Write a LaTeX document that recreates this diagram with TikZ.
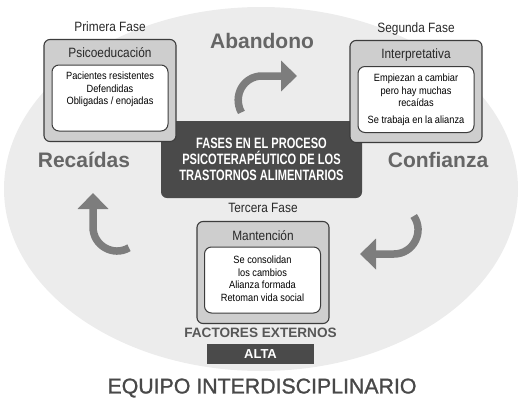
\documentclass[tikz,border=0pt]{standalone}
\usepackage{fontspec}
\usepackage{xcolor}
\setmainfont{Liberation Sans}
\newfontfamily\narrowfont[FakeStretch=0.88]{Liberation Sans}
\newfontfamily\condfont[FakeStretch=0.74]{Liberation Sans}
\newfontfamily\mediumfont[FakeBold=1.2]{Liberation Sans}
\usetikzlibrary{arrows.meta, positioning, backgrounds}
\definecolor{ovalgray}{RGB}{236, 236, 236}
\definecolor{boxgray}{RGB}{206, 206, 206}
\definecolor{edgegray}{RGB}{60, 60, 60}
\definecolor{darkbox}{RGB}{74, 74, 74}
\definecolor{arrowgray}{RGB}{125, 125, 125}
\definecolor{labelgray}{RGB}{102, 102, 102}
\definecolor{textdark}{RGB}{40, 40, 40}

\begin{document}
\begin{tikzpicture}[
	x=1pt, y=-1pt,
	% Phase boxes
	phaseouter/.style={
			rectangle,
			rounded corners=6pt,
			minimum width=132pt,
			minimum height=102pt,
			fill=boxgray,
			draw=edgegray,
			line width=1.1pt
		},
	phaseinner/.style={
			rectangle,
			rounded corners=7pt,
			minimum width=116pt,
			minimum height=66pt,
			fill=white,
			draw=edgegray,
			line width=1pt
		},
	phasetitle/.style={
			font=\narrowfont\fontsize{13.5}{16}\selectfont,
			text=textdark,
			inner sep=0pt
		},
	phaselabel/.style={
			font=\narrowfont\fontsize{13.5}{16}\selectfont,
			text=textdark,
			text depth=0pt,
			inner sep=0pt
		},
	phasetext/.style={
			font=\narrowfont\fontsize{10.5}{12.5}\selectfont,
			text=black,
			align=center,
			inner sep=0pt
		},
	% Center title
	centerbox/.style={
			rectangle,
			rounded corners=6pt,
			minimum width=201pt,
			minimum height=77pt,
			fill=darkbox,
			text=white,
			align=center,
			font=\condfont\bfseries\fontsize{15}{16}\selectfont
		},
	cyclelabel/.style={
			font=\bfseries\fontsize{21}{24}\selectfont,
			text=labelgray,
			inner sep=0pt
		},
	altabox/.style={
			rectangle,
			minimum width=107pt,
			minimum height=20pt,
			fill=darkbox,
			text=white,
			font=\bfseries\fontsize{13}{15}\selectfont
		},
	bigarrow/.style={
	-{Triangle[length=16pt, width=30pt]},
	line width=7.5pt,
	color=arrowgray
	}
	]

	\useasboundingbox (0,0) rectangle (527,407);

	% Background oval
	\fill[ovalgray] (261,189) ellipse [x radius=257, y radius=182];

	% Center title
	\node[centerbox] (center) at (261.5,159.5) {FASES EN EL PROCESO\\PSICOTERAPÉUTICO DE LOS\\TRASTORNOS ALIMENTARIOS};

	% First phase
	\node[phaseouter] (fase1) at (110,90.5) {};
	\node[phaseinner] (inner1) at (110,98) {};
	\node[phasetitle] (title1) at (110,53) {Psicoeducación};
	\node[phaselabel, above=7pt of fase1] (label1) {Primera Fase};
	\node[phasetext] (text1) at (110,89.5) {Pacientes resistentes\\Defendidas\\Obligadas / enojadas};

	% Second phase
	\node[phaseouter] (fase2) at (416,91.5) {};
	\node[phaseinner] (inner2) at (416,99.5) {};
	\node[phasetitle] (title2) at (416,55) {Interpretativa};
	\node[phaselabel, above=7pt of fase2] (label2) {Segunda Fase};
	\node[phasetext] (text2) at (416,100) {Empiezan a cambiar\\pero hay muchas\\recaídas\\[4pt]Se trabaja en la alianza};

	% Third phase
	\node[phaseouter] (fase3) at (263,272.5) {};
	\node[phaseinner] (inner3) at (262.5,280) {};
	\node[phasetitle] (title3) at (263,236) {Mantención};
	\node[phaselabel, above=8pt of fase3] (label3) {Tercera Fase};
	\node[phasetext] (text3) at (262.5,278.5) {Se consolidan\\los cambios\\Alianza formada\\Retoman vida social};

	% Cycle labels
	\node[cyclelabel] (abandono) at (262,41) {Abandono};
	\node[cyclelabel] (recaidas) at (84,160) {Recaídas};
	\node[cyclelabel] (confianza) at (438,160) {Confianza};

	% Bottom labels
	\node[font=\bfseries\fontsize{13.6}{16}\selectfont, text=labelgray!85!black, inner sep=0pt] (factores) at (260.5,333) {FACTORES EXTERNOS};
	\node[altabox] (alta) at (260.5,354) {ALTA};
	\node[font=\mediumfont\fontsize{21.3}{24}\selectfont, text=textdark!85!white, inner sep=0pt] (equipo) at (262,388) {EQUIPO INTERDISCIPLINARIO};

	% Cycle arrows
	\coordinate (abandonoTail) at (241.4,112.4);
	\coordinate (abandonoTip) at (297,76);
	\coordinate (confianzaTail) at (413.7,216);
	\coordinate (confianzaTip) at (360,254);
	\coordinate (recaidasTail) at (129,247.8);
	\coordinate (recaidasTip) at (93,193);

	\draw[bigarrow] (abandonoTail) .. controls (232.4,96) and (243.4,76) .. (262,76) -- (abandonoTip);
	\draw[bigarrow] (confianzaTail) .. controls (424.8,231.9) and (413.4,254) .. (394,254) -- (confianzaTip);
	\draw[bigarrow] (recaidasTail) .. controls (113,257) and (93,245.5) .. (93,227) -- (recaidasTip);

\end{tikzpicture}
\end{document}
